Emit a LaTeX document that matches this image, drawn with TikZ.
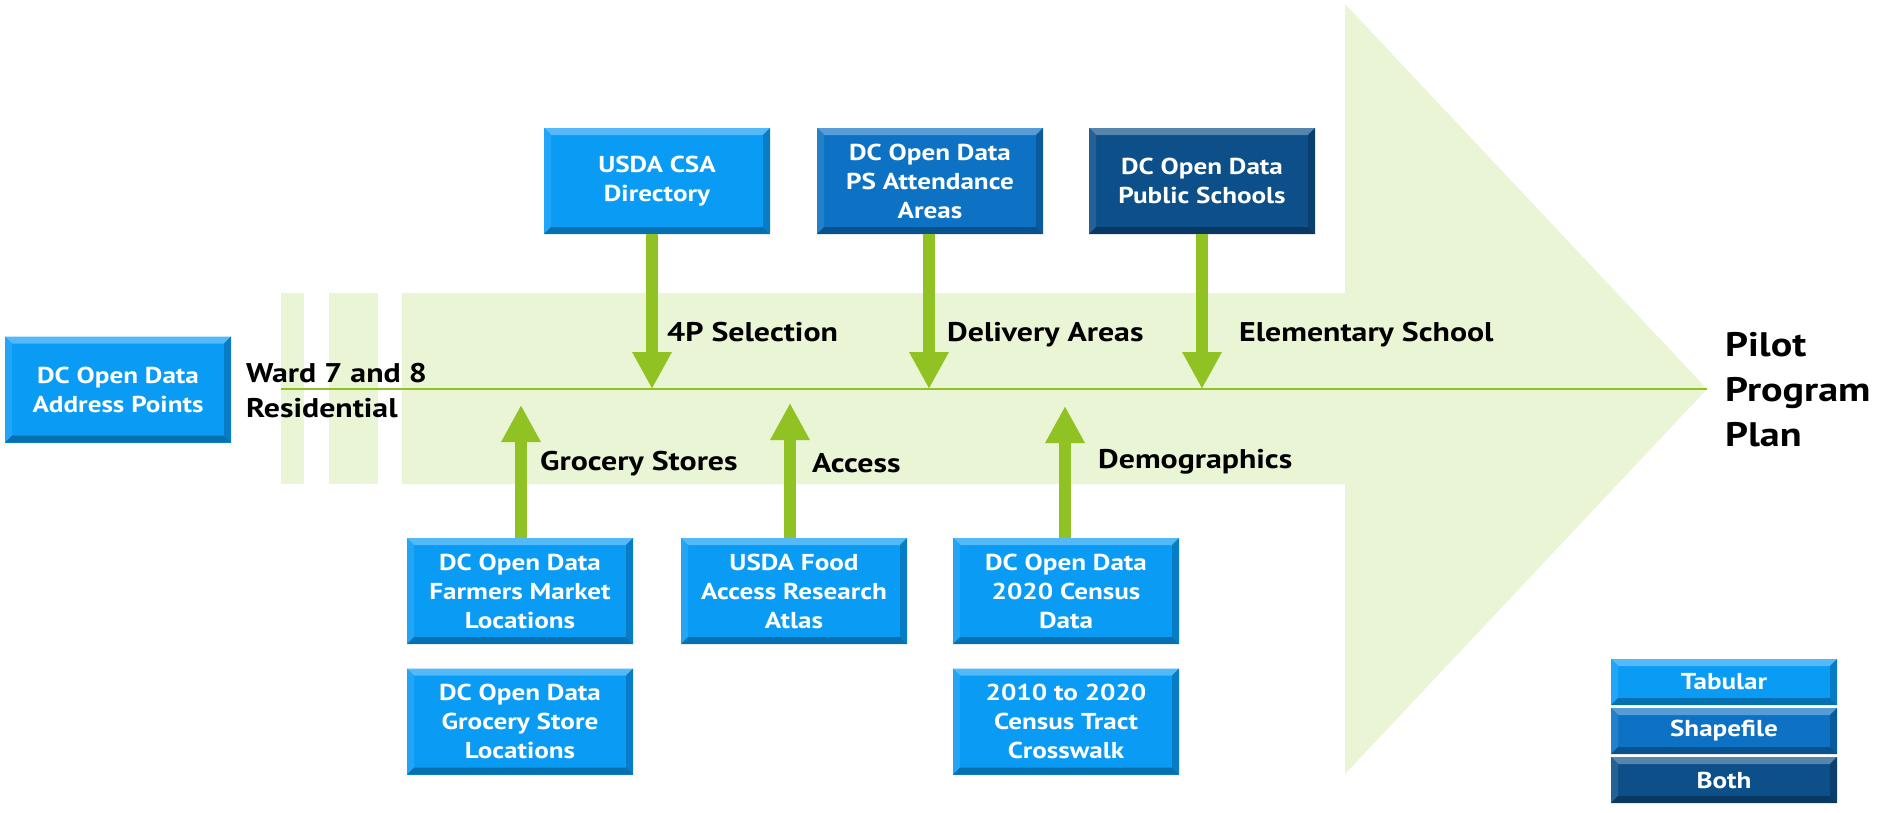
\documentclass[tikz,border=0pt]{standalone}
\usepackage{fontspec}
\setmainfont[FakeStretch=1.18]{PT Sans}
\usetikzlibrary{arrows.meta,calc}
\definecolor{lgreen}{RGB}{233,245,212}
\definecolor{agreen}{RGB}{143,194,34}
\definecolor{tabblue}{RGB}{10,155,245}
\definecolor{shpblue}{RGB}{13,114,196}
\definecolor{bothblue}{RGB}{12,79,137}
\newcommand\bxfont{\fontsize{23}{29}\selectfont\bfseries}
\newcommand\lblfont{\fontsize{27}{35}\selectfont\bfseries}
\newcommand\bigfont{\fontsize{34}{45}\selectfont\bfseries}
\tikzset{
  bevbox/.style={rectangle, inner sep=0pt, fill=#1, text=white, font=\bxfont,
    align=center, minimum width=226pt, minimum height=106pt,
    path picture={
      \fill[#1!70!white] (path picture bounding box.north west) -- (path picture bounding box.north east)
        -- ($(path picture bounding box.north east)+(-7pt,-7pt)$) -- ($(path picture bounding box.north west)+(7pt,-7pt)$) -- cycle;
      \fill[#1!90!white] (path picture bounding box.north west) -- (path picture bounding box.south west)
        -- ($(path picture bounding box.south west)+(7pt,7pt)$) -- ($(path picture bounding box.north west)+(7pt,-7pt)$) -- cycle;
      \fill[#1!72!black] (path picture bounding box.south west) -- (path picture bounding box.south east)
        -- ($(path picture bounding box.south east)+(-7pt,7pt)$) -- ($(path picture bounding box.south west)+(7pt,7pt)$) -- cycle;
      \fill[#1!80!black] (path picture bounding box.north east) -- (path picture bounding box.south east)
        -- ($(path picture bounding box.south east)+(-7pt,7pt)$) -- ($(path picture bounding box.north east)+(-7pt,-7pt)$) -- cycle;
    }},
  lbl/.style={anchor=base west, inner sep=0pt, font=\lblfont, text=black},
  garrow/.style={draw=agreen, line width=12pt, -{Triangle[length=37pt,width=37pt]}}
}
\begin{document}
\begin{tikzpicture}[x=1pt,y=-1pt]
\useasboundingbox (0,0) rectangle (1895,812);
\fill[white] (0,0) rectangle (1895,812);
% big arrow background
\fill[lgreen] (402,293) -- (1345,293) -- (1345,4) -- (1707,389) -- (1345,774) -- (1345,484) -- (402,484) -- cycle;
\fill[lgreen] (281,293) rectangle (304,484);
\fill[lgreen] (329,293) rectangle (378,484);
\coordinate (lstart) at (281,389);
\coordinate (tip) at (1707,389);
\draw[agreen, line width=2pt] (lstart) -- (tip);

% arrow end points
\coordinate (t1) at (652,389);
\coordinate (t2) at (929,389);
\coordinate (t3) at (1202,389);
\coordinate (b1) at (521,405);
\coordinate (b2) at (790,403);
\coordinate (b3) at (1065,406);

% boxes
\node[bevbox=tabblue] (addr) at (118,389.5) {DC Open Data\\Address Points};
\node[bevbox=tabblue] (csa) at (657,181) {USDA CSA\\Directory};
\node[bevbox=shpblue] (psa) at (930,181) {DC Open Data\\PS Attendance\\Areas};
\node[bevbox=bothblue] (pub) at (1202,181) {DC Open Data\\Public Schools};
\node[bevbox=tabblue] (farm) at (520,591) {DC Open Data\\Farmers Market\\Locations};
\node[bevbox=tabblue] (food) at (794,591) {USDA Food\\Access Research\\Atlas};
\node[bevbox=tabblue] (census) at (1066,591) {DC Open Data\\2020 Census\\Data};
\node[bevbox=tabblue] (groc) at (520,721.5) {DC Open Data\\Grocery Store\\Locations};
\node[bevbox=tabblue] (cross) at (1066,721.5) {2010 to 2020\\Census Tract\\Crosswalk};

% legend
\node[bevbox=tabblue, minimum height=46pt] (ltab) at (1724,682) {Tabular};
\node[bevbox=shpblue, minimum height=46pt] (lshp) at (1724,731) {Shapefile};
\node[bevbox=bothblue, minimum height=46pt] (lboth) at (1724,780) {Both};

% connectors
\draw[garrow] (csa.south -| t1) -- (t1);
\draw[garrow] (psa.south -| t2) -- (t2);
\draw[garrow] (pub.south -| t3) -- (t3);
\draw[garrow] (farm.north -| b1) -- (b1);
\draw[garrow] (food.north -| b2) -- (b2);
\draw[garrow] (census.north -| b3) -- (b3);

% labels
\node[lbl] (lw) at (246,382) {\begin{tabular}[t]{@{}l@{}}Ward 7 and 8\\Residential\end{tabular}};
\node[lbl] (l1) at (667,341) {4P Selection};
\node[lbl] (l2) at (947,341) {Delivery Areas};
\node[lbl] (l3) at (1239,341) {Elementary School};
\node[lbl] (l4) at (540,470) {Grocery Stores};
\node[lbl] (l5) at (812,472) {Access};
\node[lbl] (l6) at (1098,468) {Demographics};
\node[lbl, font=\bigfont] (goal) at (1725,356) {\begin{tabular}[t]{@{}l@{}}Pilot\\Program\\Plan\end{tabular}};
\end{tikzpicture}
\end{document}
